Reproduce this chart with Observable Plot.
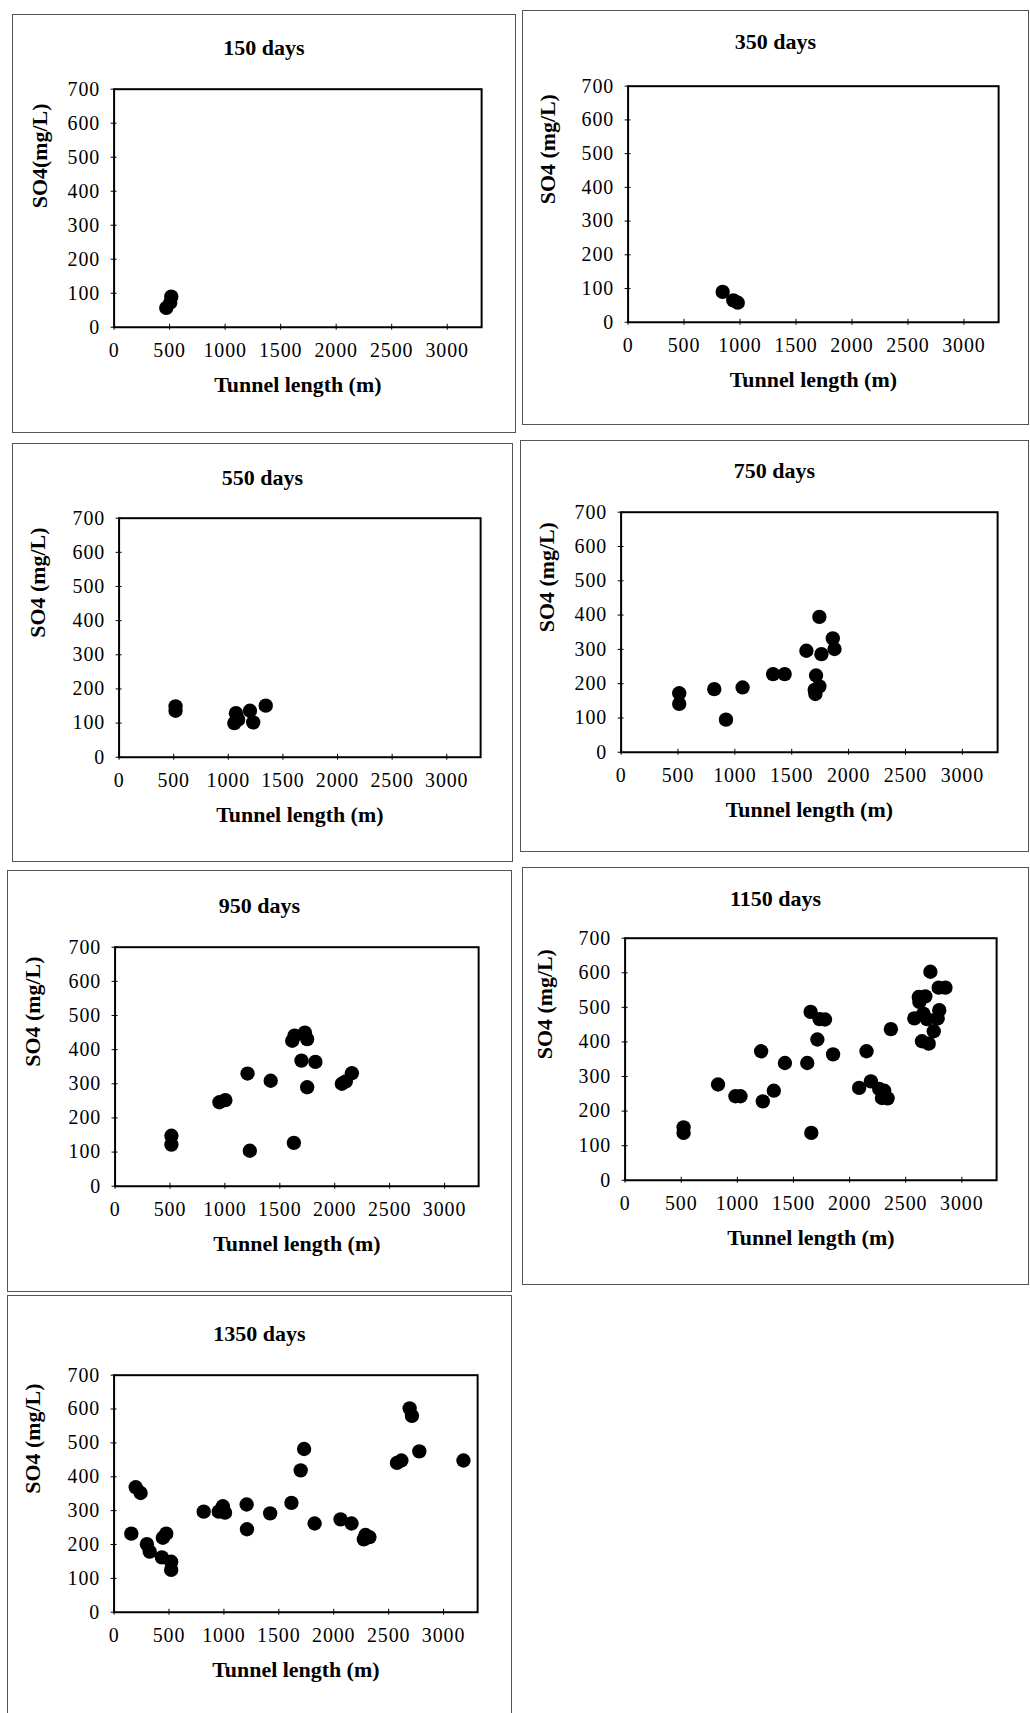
<!DOCTYPE html>
<html><head><meta charset="utf-8">
<script src="https://cdn.jsdelivr.net/npm/d3@7"></script>
<script src="https://cdn.jsdelivr.net/npm/@observablehq/plot@0.6"></script>
<style>
html,body{margin:0;padding:0;background:#fff;}
body{width:1030px;height:1713px;position:relative;overflow:hidden;font-family:"Liberation Serif","Times New Roman",serif;color:#000;}
.panel{position:absolute;border:1px solid #555;box-sizing:border-box;}
.panel svg{position:absolute;left:-1px;top:-1px;overflow:visible;}
.panel svg g[aria-label="x-axis tick label"] text,
.panel svg g[aria-label="y-axis tick label"] text{letter-spacing:0.9px;}
.title{position:absolute;left:0;right:0;text-align:center;font-weight:bold;font-size:22px;line-height:1;}
</style></head><body>
<script>
// ---- data ----
const xTicks = [0, 500, 1000, 1500, 2000, 2500, 3000];
const yTicks = [0, 100, 200, 300, 400, 500, 600, 700];
const xLabel = "Tunnel length (m)";

const len150 = [470, 505, 515];
const so4_150 = [57, 72, 90];

const len350 = [845, 940, 980];
const so4_350 = [90, 65, 58];

const len550 = [517, 517, 1055, 1070, 1090, 1198, 1228, 1343];
const so4_550 = [149, 136, 100, 129, 110, 136, 102, 151];

const len750 = [511, 511, 819, 922, 1068, 1336, 1438, 1629, 1743, 1761, 1861, 1876, 1714, 1702, 1743, 1708];
const so4_750 = [172, 141, 184, 95, 189, 228, 228, 296, 395, 286, 332, 301, 224, 182, 192, 170];

const len950 = [513, 513, 950, 1004, 1206, 1227, 1417, 1613, 1634, 1728, 1749, 1697, 1824, 1749, 1628, 2065, 2101, 2156];
const so4_950 = [148, 122, 246, 252, 330, 104, 309, 426, 441, 450, 431, 368, 364, 290, 127, 300, 307, 331];

const len1150 = [521, 521, 828, 983, 1028, 1212, 1227, 1325, 1424, 1623, 1653, 1713, 1733, 1781, 1853, 1659, 2085, 2151, 2190, 2264, 2309, 2288, 2339, 2368, 2577, 2616, 2622, 2675, 2657, 2690, 2645, 2705, 2720, 2750, 2794, 2854, 2799, 2785];
const so4_1150 = [153, 137, 277, 243, 243, 373, 228, 259, 339, 339, 487, 407, 466, 465, 364, 137, 267, 373, 286, 264, 259, 238, 237, 437, 468, 530, 516, 532, 482, 466, 402, 395, 603, 431, 557, 557, 492, 468];

const len1350 = [157, 197, 242, 299, 324, 435, 444, 475, 520, 520, 816, 953, 990, 1010, 1207, 1210, 1421, 1615, 1699, 1730, 1826, 2062, 2162, 2274, 2289, 2325, 2576, 2616, 2691, 2712, 2779, 3181];
const so4_1350 = [232, 369, 352, 201, 179, 162, 220, 232, 149, 125, 297, 297, 313, 294, 318, 245, 292, 323, 419, 482, 262, 274, 262, 215, 228, 222, 441, 448, 602, 580, 475, 448];

// ---- layout (page pixels) ----
const panels = [
  {title: "150 days",  yLabel: "SO4(mg/L)",  xs: len150,  ys: so4_150,  box: [12, 14, 516, 433],   frame: [114, 89, 483, 328],   titleY: 47,   ylx: -74},
  {title: "350 days",  yLabel: "SO4 (mg/L)", xs: len350,  ys: so4_350,  box: [522, 10, 1029, 425],  frame: [628, 86, 1000, 323],  titleY: 41,   ylx: -80},
  {title: "550 days",  yLabel: "SO4 (mg/L)", xs: len550,  ys: so4_550,  box: [12, 443, 513, 862],  frame: [119, 518, 482, 758],  titleY: 477,  ylx: -81},
  {title: "750 days",  yLabel: "SO4 (mg/L)", xs: len750,  ys: so4_750,  box: [520, 440, 1029, 852], frame: [621, 512, 999, 753],  titleY: 470,  ylx: -74},
  {title: "950 days",  yLabel: "SO4 (mg/L)", xs: len950,  ys: so4_950,  box: [7, 870, 512, 1292],  frame: [115, 947, 480, 1187], titleY: 905,  ylx: -82},
  {title: "1150 days", yLabel: "SO4 (mg/L)", xs: len1150, ys: so4_1150, box: [522, 867, 1029, 1285], frame: [625, 938, 998, 1181], titleY: 898,  ylx: -80},
  {title: "1350 days", yLabel: "SO4 (mg/L)", xs: len1350, ys: so4_1350, box: [7, 1295, 512, 1716], frame: [114, 1375, 479, 1613], titleY: 1333, ylx: -81}
];

const font = "'Liberation Serif','Times New Roman',serif";

for (const p of panels) {
  const [bl, bt, br, bb] = p.box;
  const [fl, ft, fr, fb] = p.frame;
  const div = document.createElement("div");
  div.className = "panel";
  div.style.left = bl + "px";
  div.style.top = bt + "px";
  div.style.width = (br - bl) + "px";
  div.style.height = (bb - bt) + "px";
  document.body.appendChild(div);

  const data = p.xs.map((x, i) => ({len: x, so4: p.ys[i]}));
  const W = br - bl, H = bb - bt;
  const xDomainMax = 3310;
  const chart = Plot.plot({
    width: W,
    height: H,
    marginLeft: fl - bl,
    marginRight: br - fr,
    marginTop: ft - bt,
    marginBottom: bb - fb,
    x: {domain: [0, xDomainMax]},
    y: {domain: [0, 700]},
    style: {fontFamily: font, fontSize: "20px", color: "#000", background: "transparent", overflow: "visible"},
    marks: [
      Plot.axisX({ticks: xTicks, tickSize: 6, dy: -3, tickFormat: () => "", label: null, stroke: "#000"}),
      Plot.axisY({ticks: yTicks, tickSize: 6, dx: 3, tickFormat: () => "", label: null, stroke: "#000"}),
      Plot.axisX({ticks: xTicks, tickSize: 0, tickPadding: 16, label: null, fontSize: 20, tickFormat: d => String(d)}),
      Plot.axisY({ticks: yTicks, tickSize: 0, tickPadding: 14, label: null, fontSize: 20, tickFormat: d => String(d)}),
      Plot.frame({stroke: "#000", strokeWidth: 2}),
      Plot.dot(data, {x: "len", y: "so4", r: 7.2, fill: "#000", stroke: "none"}),
      Plot.text([xLabel], {text: d => d, frameAnchor: "bottom", dy: 65, fontWeight: "bold", fontSize: 22}),
      Plot.text([p.yLabel], {text: d => d, frameAnchor: "left", dx: p.ylx, rotate: -90, fontWeight: "bold", fontSize: 22})
    ]
  });
  div.appendChild(chart);

  const t = document.createElement("div");
  t.className = "title";
  t.textContent = p.title;
  t.style.top = (p.titleY - bt - 11) + "px";
  div.appendChild(t);
}
</script>
</body></html>
